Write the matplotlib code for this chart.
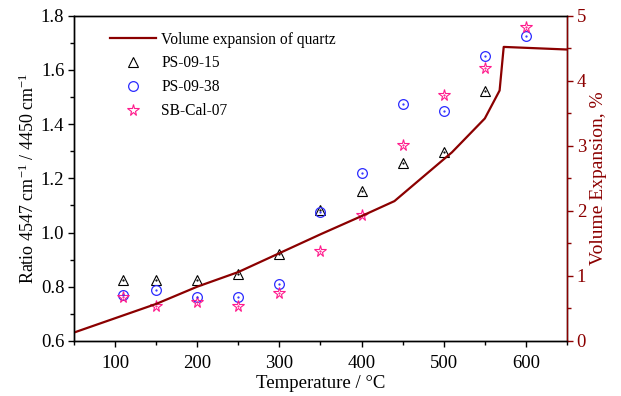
import numpy as np
import matplotlib
matplotlib.use('Agg')
import matplotlib.pyplot as plt
from matplotlib.ticker import MultipleLocator

plt.rcParams['font.family'] = ['Liberation Serif', 'DejaVu Serif']
plt.rcParams['mathtext.fontset'] = 'custom'
plt.rcParams['mathtext.rm'] = 'Liberation Serif'
plt.rcParams['mathtext.it'] = 'Liberation Serif:italic'

# sample temperatures (deg C)
temp = [110, 150, 200, 250, 300, 350, 400, 450, 500, 550, 600]
ps_09_15 = [0.825, 0.825, 0.825, 0.846, 0.921, 1.084, 1.155, 1.255, 1.297, 1.523]
ps_09_38 = [0.770, 0.787, 0.761, 0.763, 0.812, 1.074, 1.221, 1.474, 1.448, 1.650, 1.724]
sb_cal_07 = [0.762, 0.729, 0.744, 0.729, 0.778, 0.932, 1.064, 1.324, 1.508, 1.607, 1.758]

# volume expansion of quartz (%)
q_temp = [50, 100, 150, 200, 250, 300, 350, 400, 440, 510, 550, 568, 573, 650]
q_vol = [0.13, 0.35, 0.57, 0.835, 1.06, 1.35, 1.64, 1.92, 2.15, 2.90, 3.42, 3.85, 4.52, 4.48]

RED = '#8B0000'
BLUE = '#2B2BFF'
PINK = '#FF1A8C'

fig = plt.figure(figsize=(6.21, 3.96), dpi=100)
ax = fig.add_axes([0.1192, 0.1389, 0.7938, 0.8215])
ax2 = ax.twinx()

h_line, = ax2.plot(q_temp, q_vol, color=RED, lw=1.6, label='Volume expansion of quartz')

ms = 7
h_tri, = ax.plot(temp[:len(ps_09_15)], ps_09_15, ls='none', marker='^', ms=ms,
                 mfc='none', mec='black', mew=0.8, label='PS-09-15')
h_cir, = ax.plot(temp, ps_09_38, ls='none', marker='o', ms=ms,
                 mfc='none', mec=BLUE, mew=0.9, label='PS-09-38')
h_star, = ax.plot(temp, sb_cal_07, ls='none', marker='*', ms=ms + 1.5,
                  mfc='none', mec=PINK, mew=0.8, label='SB-Cal-07')
# small centre dots, Origin style
ax.plot(temp[:len(ps_09_15)], ps_09_15, ls='none', marker='.', ms=1.2, color='black')
ax.plot(temp, ps_09_38, ls='none', marker='.', ms=1.2, color=BLUE)
ax.plot(temp, sb_cal_07, ls='none', marker='.', ms=1.2, color=PINK)

ax.set_xlim(50, 650)
ax.set_ylim(0.6, 1.8)
ax2.set_ylim(0, 5)

ax.xaxis.set_major_locator(MultipleLocator(100))
ax.xaxis.set_minor_locator(MultipleLocator(50))
ax.yaxis.set_major_locator(MultipleLocator(0.2))
ax.yaxis.set_minor_locator(MultipleLocator(0.1))
ax.yaxis.set_major_formatter(matplotlib.ticker.FormatStrFormatter('%.1f'))
ax2.yaxis.set_major_locator(MultipleLocator(1))
ax2.yaxis.set_minor_locator(MultipleLocator(0.5))

for a in (ax, ax2):
    a.tick_params(which='major', direction='out', length=4.5, width=1, labelsize=13.5, pad=2.5)
    a.tick_params(which='minor', direction='out', length=3, width=1)
ax.tick_params(axis='x', which='major', pad=5.5)
ax.tick_params(axis='y', which='both', right=False)
ax2.tick_params(axis='y', which='both', colors=RED, labelcolor=RED)
ax2.spines['right'].set_color(RED)
for s in ax.spines.values():
    s.set_linewidth(1)
for s in ax2.spines.values():
    s.set_linewidth(1)

ax.set_xlabel('Temperature / °C', fontsize=13.5, labelpad=2.5)
ax.set_ylabel('Ratio 4547 cm$^{-1}$ / 4450 cm$^{-1}$', fontsize=13, labelpad=2)
ax2.set_ylabel('Volume Expansion, %', fontsize=14, color=RED, labelpad=3)

leg = ax2.legend(handles=[h_line, h_tri, h_cir, h_star], loc='upper left',
                 bbox_to_anchor=(0.06, 0.97), frameon=False, fontsize=11.2,
                 handlelength=3, handletextpad=0.3, labelspacing=0.5,
                 borderaxespad=0)

fig.savefig('out.png', dpi=100)
